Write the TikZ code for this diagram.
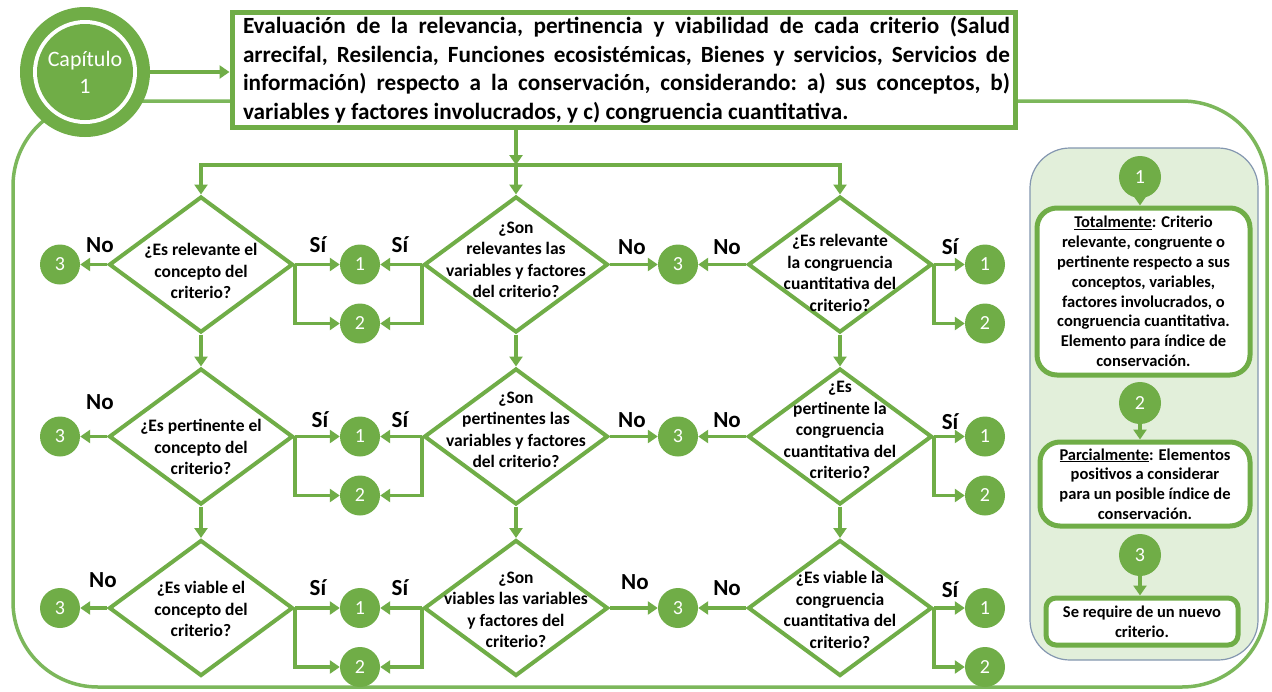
\documentclass[tikz,border=0pt]{standalone}
\usepackage{fontspec}
\setmainfont{Carlito}
\usetikzlibrary{shapes.geometric,arrows.meta}
\definecolor{gr}{HTML}{70AD47}
\definecolor{frm}{HTML}{7CB75B}
\definecolor{pnl}{HTML}{E2EFDA}
\definecolor{pbd}{HTML}{8497B0}
\begin{document}
\begin{tikzpicture}[x=1pt,y=-1pt,
  arr/.style={draw=gr,line width=3.5pt,-{Triangle[length=10pt,width=13pt]}},
  dia/.style={diamond,draw=gr,line width=4pt,minimum width=184pt,minimum height=136pt,inner sep=0pt,fill=white},
  dtxt/.style={font=\fontsize{17.5}{21.5}\selectfont\bfseries,align=center,inner sep=0pt},
  num/.style={circle,fill=gr,text=white,minimum size=40pt,inner sep=0pt,font=\fontsize{20}{20}\selectfont},
  pnum/.style={num,minimum size=42pt},
  yn/.style={font=\fontsize{23}{23}\selectfont\bfseries,inner sep=0pt},
  pbox/.style={draw=gr,line width=5pt,fill=white,rounded corners=20pt,inner sep=0pt},
  ptxt/.style={font=\fontsize{16.5}{19.8}\selectfont\bfseries,align=center,inner sep=0pt}
]
\useasboundingbox (0,0) rectangle (1272,691);
\fill[white] (0,0) rectangle (1272,691);

% outer frame
\draw[frm,line width=3.5pt,rounded corners=85pt] (13,101) rectangle (1267,687);

% chapter circle
\node[circle,fill=gr,minimum size=130pt,inner sep=0pt] (cap) at (85,72) {};
\node[circle,fill=white,minimum size=104pt,inner sep=0pt] (capw) at (cap.center) {};
\node[circle,fill=gr,minimum size=96pt,inner sep=0pt,text=white,align=center,
  font=\fontsize{22}{27}\selectfont] (capi) at (cap.center) {Capítulo\\1};

% header box
\node[draw=gr,line width=5pt,fill=white,minimum width=783pt,minimum height=115pt,inner sep=0pt] (hdr) at (623.5,69.5) {};
\node[text width=767pt,align=justify,inner sep=0pt,font=\fontsize{23.2}{28.7}\selectfont\bfseries] (hdrt) at (626.5,70) {\frenchspacing\tolerance=9999 Evaluación de la relevancia, pertinencia y viabilidad de cada criterio (Salud\linebreak
arrecifal, Resilencia, Funciones ecosistémicas, Bienes y servicios, Servicios de\linebreak
información) respecto a la conservación, considerando: a) sus conceptos, b)\linebreak
variables y factores involucrados, y c) congruencia cuantitativa.};
\draw[arr] (cap.east) -- (hdr.west |- cap.east);

% diamonds
\node[dia] (d11) at (201,264.5) {};
\node[dia] (d12) at (516,264.5) {};
\node[dia] (d13) at (840,264.5) {};
\node[dia] (d21) at (201,436.5) {};
\node[dia] (d22) at (516,436.5) {};
\node[dia] (d23) at (840,436.5) {};
\node[dia] (d31) at (201,608) {};
\node[dia] (d32) at (516,608) {};
\node[dia] (d33) at (840,608) {};

\node[dtxt] (t11) at (201,271) {¿Es relevante el\\concepto del\\criterio?};
\node[dtxt] (t12) at (516,260) {¿Son\\relevantes las\\variables y factores\\del criterio?};
\node[dtxt] (t13) at (840,273) {¿Es relevante\\la congruencia\\cuantitativa del\\criterio?};
\node[dtxt] (t21) at (201,447) {¿Es pertinente el\\concepto del\\criterio?};
\node[dtxt] (t22) at (516,430) {¿Son\\pertinentes las\\variables y factores\\del criterio?};
\node[dtxt] (t23) at (840,430) {¿Es\\pertinente la\\congruencia\\cuantitativa del\\criterio?};
\node[dtxt] (t31) at (201,609) {¿Es viable el\\concepto del\\criterio?};
\node[dtxt] (t32) at (516,610) {¿Son\\viables las variables\\y factores del\\criterio?};
\node[dtxt] (t33) at (840,610) {¿Es viable la\\congruencia\\cuantitativa del\\criterio?};

% branch from header
\coordinate (bm) at (516,165);
\draw[arr] (hdr.south -| bm) -- (bm);
\draw[arr] (bm) -| (d11.north);
\draw[arr] (bm) -| (d13.north);
\draw[arr] (bm) -- (d12.north);

% vertical flow
\foreach \c in {1,2,3}{
  \draw[arr] (d1\c.south) -- (d2\c.north);
  \draw[arr] (d2\c.south) -- (d3\c.north);
}

% circles and connectors per row
\foreach \r/\y in {1/264.5,2/436.5,3/608}{
  \node[num] (l3\r) at (60,\y) {3};
  \node[num] (a1\r) at (360,\y) {1};
  \node[num] (a2\r) at (360,\y+59) {2};
  \node[num] (m3\r) at (678,\y) {3};
  \node[num] (b1\r) at (985,\y) {1};
  \node[num] (b2\r) at (985,\y+59) {2};
  \draw[arr] (d\r1.west) -- (l3\r);
  \draw[arr] (d\r1.east) -- (a1\r);
  \draw[arr] (d\r1.east) |- (a2\r);
  \draw[arr] (d\r2.west) -- (a1\r);
  \draw[arr] (d\r2.west) |- (a2\r);
  \draw[arr] (d\r2.east) -- (m3\r);
  \draw[arr] (d\r3.west) -- (m3\r);
  \draw[arr] (d\r3.east) -- (b1\r);
  \draw[arr] (d\r3.east) |- (b2\r);
}

% yes / no labels
\node[yn] (n11) at (100,245) {No};
\node[yn] (s11) at (318,245) {Sí};
\node[yn] (s12) at (400,245) {Sí};
\node[yn] (n12) at (632,247) {No};
\node[yn] (n13) at (727,247) {No};
\node[yn] (s13) at (950,247) {Sí};
\node[yn] (n21) at (100,402) {No};
\node[yn] (s21) at (320,420) {Sí};
\node[yn] (s22) at (400,420) {Sí};
\node[yn] (n22) at (632,420) {No};
\node[yn] (n23) at (727,420) {No};
\node[yn] (s23) at (950,422) {Sí};
\node[yn] (n31) at (103,580) {No};
\node[yn] (s31) at (318,588) {Sí};
\node[yn] (s32) at (400,588) {Sí};
\node[yn] (n32) at (635,582) {No};
\node[yn] (n33) at (727,588) {No};
\node[yn] (s33) at (950,590) {Sí};

% legend panel
\node[draw=pbd,line width=1.2pt,fill=pnl,rounded corners=40pt,minimum width=228pt,minimum height=512pt,inner sep=0pt] (pan) at (1144,404) {};
\node[pnum] (p1) at (1140,177) {1};
\node[pnum] (p2) at (1140,403) {2};
\node[pnum] (p3) at (1140,555) {3};
\node[pbox,minimum width=213pt,minimum height=167pt] (pb1) at (1143.5,291.5) {};
\node[pbox,minimum width=210pt,minimum height=84pt] (pb2) at (1145,484) {};
\node[pbox,minimum width=192pt,minimum height=47pt,rounded corners=10pt] (pb3) at (1142,621.5) {};
\node[ptxt] (pt1) at (pb1.center) {\underline{Totalmente}: Criterio\\relevante, congruente o\\pertinente respecto a sus\\conceptos, variables,\\factores involucrados, o\\congruencia cuantitativa.\\Elemento para índice de\\conservación.};
\node[ptxt] (pt2) at (pb2.center) {\underline{Parcialmente}: Elementos\\positivos a considerar\\para un posible índice de\\conservación.};
\node[ptxt] (pt3) at (pb3.center) {Se require de un nuevo\\criterio.};
\draw[arr] (p1.south) -- (p1.south |- pb1.north);
\draw[arr] (p2.south) -- (p2.south |- pb2.north);
\draw[arr] (p3.south) -- (p3.south |- pb3.north);
\end{tikzpicture}
\end{document}
